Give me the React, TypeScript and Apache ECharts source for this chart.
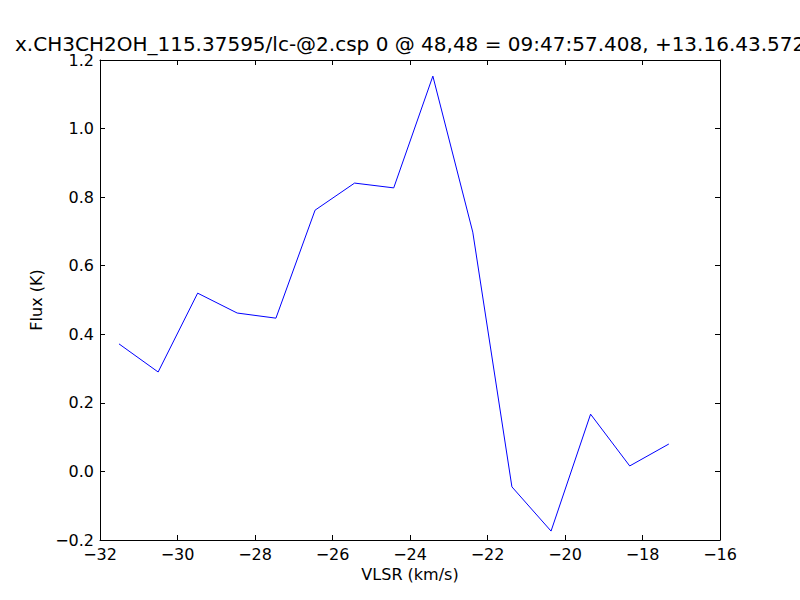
import React, { useEffect, useRef } from "react";
import * as echarts from "echarts";

const titleText = "x.CH3CH2OH_115.37595/lc-@2.csp 0 @ 48,48 = 09:47:57.408, +13.16.43.572";
const xLabel = "VLSR (km/s)";
const yLabel = "Flux (K)";
const vlsr = [-31.51, -30.5, -29.48, -28.46, -27.46, -26.45, -25.43, -24.42, -23.41, -22.38, -21.37, -20.36, -19.34, -18.33, -17.32];
const flux = [0.372, 0.29, 0.52, 0.462, 0.447, 0.762, 0.841, 0.827, 1.153, 0.698, -0.045, -0.174, 0.167, 0.016, 0.08];

const minus = (s: string) => s.replace("-", "\u2212");
const FONT = "DejaVu Sans";

export default function App() {
  const ref = useRef<HTMLDivElement>(null);
  useEffect(() => {
    if (!ref.current) return;
    const chart = echarts.init(ref.current, undefined, { renderer: "svg" });
    const axisLine = { show: true, onZero: false, lineStyle: { color: "#000", width: 1 } };
    const tick = { show: true, inside: true, length: 5, lineStyle: { color: "#000", width: 1 } };
    chart.setOption({
      animation: false,
      backgroundColor: "#fff",
      title: {
        text: titleText,
        left: 15,
        top: 34,
        padding: 0,
        textStyle: { fontFamily: FONT, fontSize: 20, fontWeight: "normal", color: "#000" },
      },
      grid: { left: 100, top: 60, width: 620, height: 480, containLabel: false },
      xAxis: [
        {
          type: "value",
          min: -32,
          max: -16,
          interval: 2,
          position: "bottom",
          axisLine,
          axisTick: tick,
          splitLine: { show: false },
          axisLabel: {
            color: "#000",
            fontFamily: FONT,
            fontSize: 16,
            margin: 6,
            formatter: (v: number) => minus(String(v)),
          },
          name: xLabel,
          nameLocation: "middle",
          nameGap: 26,
          nameTextStyle: { color: "#000", fontFamily: FONT, fontSize: 16 },
        },
        {
          type: "value",
          min: -32,
          max: -16,
          interval: 2,
          position: "top",
          axisLine,
          axisTick: tick,
          splitLine: { show: false },
          axisLabel: { show: false },
        },
      ],
      yAxis: [
        {
          type: "value",
          min: -0.2,
          max: 1.2,
          interval: 0.2,
          position: "left",
          axisLine,
          axisTick: tick,
          splitLine: { show: false },
          axisLabel: {
            color: "#000",
            fontFamily: FONT,
            fontSize: 16,
            margin: 6,
            formatter: (v: number) => minus(v.toFixed(1)),
          },
          name: yLabel,
          nameLocation: "middle",
          nameGap: 56,
          nameRotate: 90,
          nameTextStyle: { color: "#000", fontFamily: FONT, fontSize: 16 },
        },
        {
          type: "value",
          min: -0.2,
          max: 1.2,
          interval: 0.2,
          position: "right",
          axisLine,
          axisTick: tick,
          splitLine: { show: false },
          axisLabel: { show: false },
        },
      ],
      series: [
        {
          type: "line",
          data: vlsr.map((x, i) => [x, flux[i]]),
          showSymbol: false,
          symbol: "none",
          lineStyle: { color: "#0000ff", width: 1 },
          xAxisIndex: 0,
          yAxisIndex: 0,
        },
      ],
    });
    return () => chart.dispose();
  }, []);
  return <div ref={ref} style={{ position: "fixed", left: 0, top: 0, width: 800, height: 600 }} />;
}
